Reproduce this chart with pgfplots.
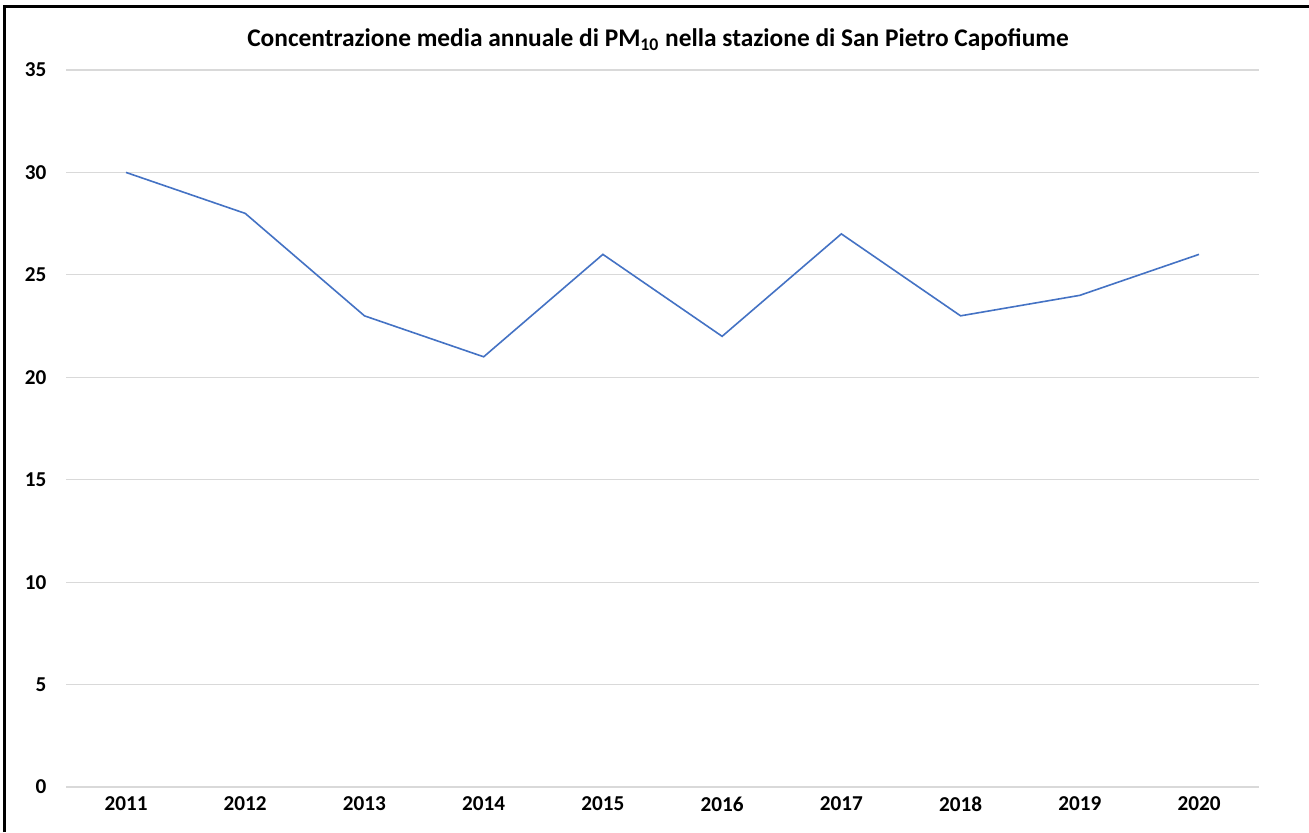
\documentclass[border=0pt]{standalone}
\usepackage{pgfplots}
\pgfplotsset{compat=1.18}
\usepackage{fontspec}
\setmainfont{Carlito}
\definecolor{exblue}{RGB}{68,114,196}
\definecolor{gridgray}{RGB}{217,217,217}
\begin{document}
\begin{tikzpicture}[x=1pt,y=1pt]
\useasboundingbox (0,0) rectangle (654.5,416);
\fill[white] (0,0) rectangle (654.5,416);
\draw[line width=1.5pt] (2,0) -- (2,412.5) -- (654.5,412.5);
\begin{axis}[
  at={(33.2pt,22.5pt)}, anchor=south west,
  scale only axis,
  width=596.1pt, height=358.5pt,
  xmin=-0.5, xmax=9.5, ymin=0, ymax=35,
  xtick={0,...,9},
  xticklabels={2011,2012,2013,2014,2015,2016,2017,2018,2019,2020},
  ytick={0,5,...,35},
  axis line style={draw=none},
  major tick length=0pt,
  ymajorgrids, grid style={gridgray, line width=0.6pt},
  /pgf/number format/assume math mode=true,
  ticklabel style={font=\fontsize{10.6}{12}\selectfont\bfseries},
  yticklabel style={anchor=east, xshift=-6.5pt},
  xticklabel style={anchor=center, yshift=-8.5pt},
  clip=false,
]
\addplot[exblue, line width=0.8pt, mark=none] coordinates {
  (0,30) (1,28) (2,23) (3,21) (4,26) (5,22) (6,27) (7,23) (8,24) (9,26)
};
\end{axis}
\node[font=\fontsize{12.7}{14}\selectfont\bfseries, anchor=center] at (329,396) {Concentrazione media annuale di PM\textsubscript{10} nella stazione di San Pietro Capofiume};
\end{tikzpicture}
\end{document}
